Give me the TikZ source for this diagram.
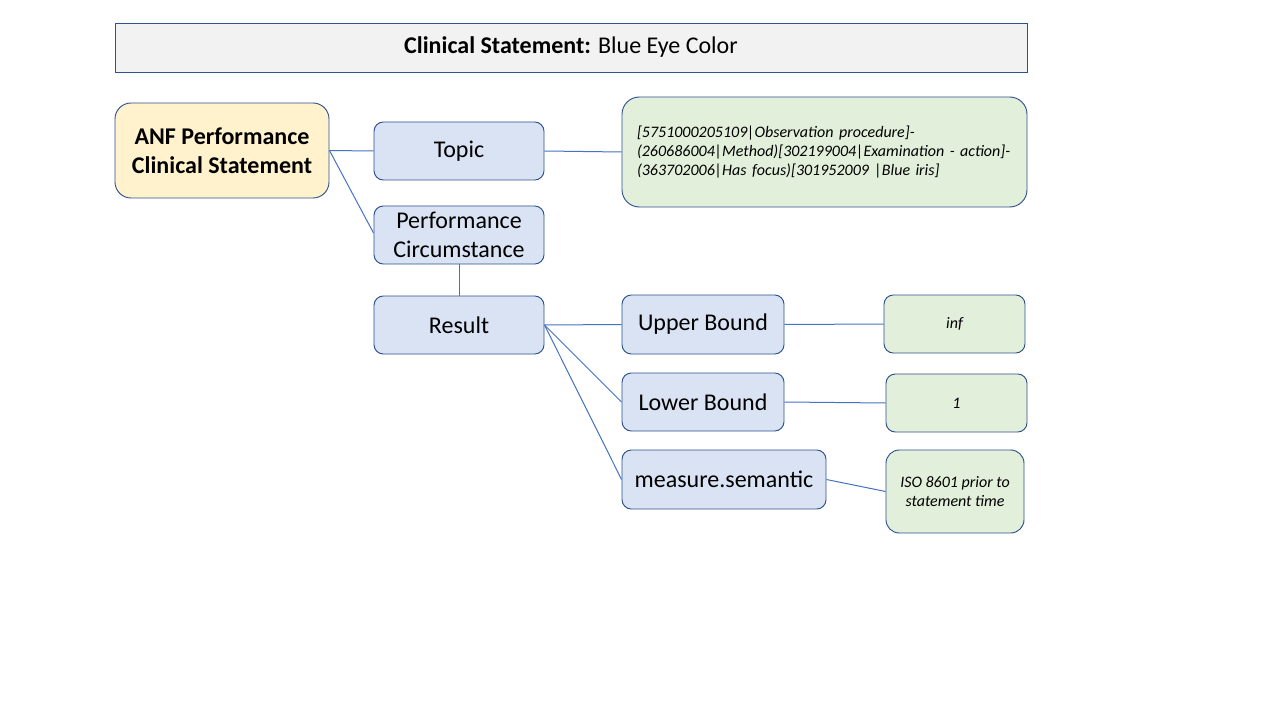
\documentclass[tikz,border=0pt]{standalone}
\usepackage{fontspec}
\setmainfont{Carlito}
\definecolor{bord}{HTML}{2F528F}
\definecolor{ln}{HTML}{4472C4}
\definecolor{titlefill}{HTML}{F2F2F2}
\definecolor{yel}{HTML}{FFF2CC}
\definecolor{blu}{HTML}{DAE3F3}
\definecolor{grn}{HTML}{E2EFDA}
\newcommand{\xsp}{\hspace{0.35em}}
\begin{document}
\begin{tikzpicture}[x=0.75pt,y=-0.75pt,
  bx/.style 2 args={draw=bord, line width=0.7pt, inner sep=0pt, align=center,
     minimum width=#1*0.75pt, minimum height=#2*0.75pt},
  bluebox/.style={fill=blu, rounded corners=7pt, font=\fontsize{18}{21.6}\selectfont},
  greenbox/.style={fill=grn, rounded corners=7pt, font=\fontsize{12}{14.6}\selectfont\itshape},
  conn/.style={draw=ln, line width=0.75pt}]
\useasboundingbox (0,0) rectangle (1280,720);
\fill[white] (0,0) rectangle (1280,720);

\node[bx={912}{49}, fill=titlefill, font=\fontsize{18}{21}\selectfont] (title) at (571,47.5)
  {\textbf{Clinical Statement:} Blue Eye Color};

\node[bx={214}{95}, fill=yel, rounded corners=12pt, font=\fontsize{18}{21.8}\selectfont\bfseries] (anf) at (222,150.5)
  {ANF Performance\\Clinical Statement};

\node[bx={170}{58}, bluebox] (topic) at (459,151) {Topic};
\node[bx={170}{58}, bluebox] (pc) at (459,235) {Performance\\Circumstance};
\node[bx={170}{58}, bluebox] (result) at (459,325) {Result};

\node[bx={405}{110}, greenbox, rounded corners=13pt, align=left, text width=375*0.75pt] (tval) at (824.5,152)
  {[5751000205109|Observation\xsp procedure]-\\
   (260686004|Method)[302199004|Examination\xsp - action]-\\
   (363702006|Has\xsp focus)[301952009\xsp |Blue iris]};

\node[bx={162}{59}, bluebox] (ub) at (703,324.5) {Upper Bound};
\node[bx={162}{58}, bluebox] (lb) at (703,402) {Lower Bound};
\node[bx={204}{59}, bluebox] (ms) at (724,479.5) {measure.semantic};

\node[bx={141}{58}, greenbox] (inf) at (954.5,324) {inf};
\node[bx={141}{58}, greenbox] (one) at (956.5,403) {1};
\node[bx={138}{83}, greenbox, rounded corners=10pt] (iso) at (955,491.5) {ISO 8601 prior to\\statement time};

\draw[conn] (anf.east) -- (topic.west);
\draw[conn] (anf.east) -- ([yshift=2*0.75pt]pc.west);
\draw[conn] (topic.east) -- (tval.west);
\draw[conn] (pc.south) -- (result.north);
\draw[conn] (result.east) -- (ub.west);
\draw[conn] (result.east) -- (lb.west);
\draw[conn] (result.east) -- (ms.west);
\draw[conn] (ub.east) -- (inf.west);
\draw[conn] (lb.east) -- (one.west);
\draw[conn] (ms.east) -- (iso.west);
\end{tikzpicture}
\end{document}
